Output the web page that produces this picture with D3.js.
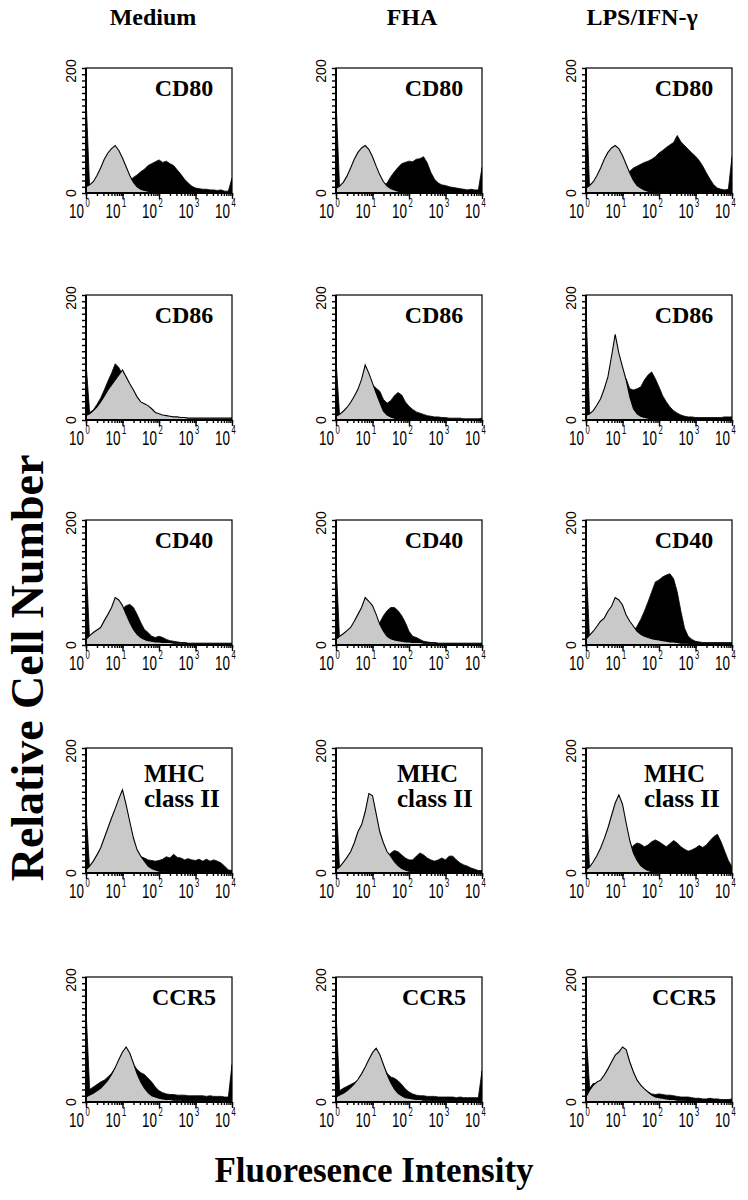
<!DOCTYPE html>
<html><head><meta charset="utf-8">
<script src="https://cdn.jsdelivr.net/npm/d3@7"></script>
<style>body{margin:0;background:#fff}</style>
</head><body>
<svg id="chart" width="748" height="1200"></svg>
<script>
// ---- categories / labels ----
const conditions = ["Medium", "FHA", "LPS/IFN-\u03b3"];
const markers = ["CD80", "CD86", "CD40", "MHC class II", "CCR5"];
const logBins = [0,0.1,0.2,0.3,0.4,0.5,0.6,0.7,0.8,0.9,1.0,1.1,1.2,1.3,1.4,1.5,1.6,1.7,1.8,1.9,2.0,2.1,2.2,2.3,2.4,2.5,2.6,2.7,2.8,2.9,3.0,3.1,3.2,3.3,3.4,3.5,3.6,3.7,3.8,3.9,4.0];
const xTickExponents = ["0","1","2","3","4"];
const yTickLabels = [0, 200];

// ---- series values (cell counts per log-bin) ----
const medium_CD80_control = [10,13,18,28,40,54,64,71,76,68, 56,42,28,17,10,6,4,3,2,1, 1,0,0,0,0,0,0,0,0,0, 0,0,0,0,0,0,0,0,0,0, 0];
const medium_CD80_stained = [155,8,8,9,9,10,10,11,12,13, 14,16,20,25,29,34,38,44,47,50, 53,49,51,47,44,37,30,22,16,11, 8,7,6,6,5,5,4,5,3,3, 24];
const fha_CD80_control = [7,11,17,27,40,54,65,72,76,70, 58,43,29,18,11,7,5,3,2,1, 1,0,0,0,0,0,0,0,0,0, 0,0,0,0,0,0,0,0,0,0, 0];
const fha_CD80_stained = [150,6,6,7,7,8,8,9,9,10, 10,11,12,13,16,26,34,41,47,49, 51,50,54,55,58,48,33,22,16,13, 12,10,9,8,7,6,5,6,5,5, 41];
const lps_CD80_control = [8,12,18,28,40,54,65,72,76,71, 60,46,32,20,12,8,5,3,2,1, 1,0,0,0,0,0,0,0,0,0, 0,0,0,0,0,0,0,0,0,0, 0];
const lps_CD80_stained = [157,6,7,7,8,8,9,10,12,15, 20,28,35,40,43,46,49,51,54,58, 64,68,73,77,81,92,82,76,70,64, 59,52,43,32,22,13,8,6,5,6, 58];

const medium_CD86_control = [7,10,15,21,29,38,48,56,64,72, 80,69,58,48,37,29,26,23,18,12, 10,8,7,6,5,5,4,4,3,3, 3,3,3,3,3,3,3,3,3,3, 3];
const medium_CD86_stained = [92,12,16,25,35,48,62,75,90,84, 72,55,40,30,22,17,14,12,10,8, 7,6,5,4,4,3,3,3,2,2, 2,2,2,2,2,2,2,2,2,2, 3];
const fha_CD86_control = [6,9,14,20,28,38,49,65,88,75, 59,43,28,14,8,5,3,2,2,1, 1,0,0,0,0,0,0,0,0,0, 0,0,0,0,0,0,0,0,0,0, 0];
const fha_CD86_stained = [97,6,10,15,22,30,40,50,58,60, 56,51,46,33,27,31,39,44,40,29, 22,17,13,11,9,7,6,5,5,4, 4,3,3,3,3,2,2,2,2,2, 3];
const lps_CD86_control = [7,10,15,24,34,50,69,102,137,107, 85,64,37,18,10,6,4,3,2,1, 1,0,0,0,0,0,0,0,0,0, 0,0,0,0,0,0,0,0,0,0, 0];
const lps_CD86_stained = [182,6,10,16,24,34,45,55,62,66, 68,66,50,48,50,53,64,72,77,66, 53,39,29,21,15,11,8,6,5,5, 4,4,4,4,4,4,4,4,5,5, 5];

const medium_CD40_control = [9,15,20,24,28,39,49,60,76,72, 63,49,36,25,17,12,9,7,6,5, 5,4,4,4,3,3,3,3,2,2, 2,2,2,2,2,2,2,2,2,2, 2];
const medium_CD40_stained = [137,6,8,11,15,20,27,35,44,52, 58,63,65,60,49,36,25,20,14,12, 14,12,9,7,6,5,4,4,3,3, 3,3,3,3,3,3,3,3,3,3, 3];
const fha_CD40_control = [9,14,18,23,28,38,49,60,76,70, 63,49,33,22,14,10,8,7,6,5, 5,4,4,4,3,3,3,3,2,2, 2,2,2,2,2,2,2,2,2,2, 2];
const fha_CD40_stained = [137,5,6,7,8,10,12,14,16,18, 20,26,36,47,55,60,60,55,47,36, 22,14,12,9,6,5,4,4,3,3, 3,3,3,3,3,3,3,3,3,3, 3];
const lps_CD40_control = [9,16,22,30,38,43,54,62,76,72, 64,48,38,30,22,17,14,12,10,9, 8,7,6,5,5,4,3,3,3,2, 2,2,2,2,2,2,2,2,2,2, 2];
const lps_CD40_stained = [138,5,6,7,8,9,10,11,12,13, 14,16,18,22,30,41,54,69,85,101, 104,109,112,114,106,85,54,27,14,9, 6,5,4,4,4,4,4,4,4,4, 4];

const medium_MHC_control = [5,11,19,29,40,56,72,88,103,119, 133,109,82,56,37,27,19,11,7,5, 3,2,2,1,1,0,0,0,0,0, 0,0,0,0,0,0,0,0,0,0, 0];
const medium_MHC_stained = [105,4,5,6,7,8,9,10,11,12, 13,14,15,17,20,26,24,21,20,19, 20,22,26,24,30,25,24,21,23,21, 20,22,19,22,19,21,19,16,11,5, 4];
const fha_MHC_control = [5,10,17,25,34,48,66,77,98,127, 124,95,66,48,34,27,18,12,7,5, 3,2,1,1,0,0,0,0,0,0, 0,0,0,0,0,0,0,0,0,0, 0];
const fha_MHC_stained = [120,4,5,6,7,8,9,10,11,12, 13,14,16,20,26,32,36,34,29,24, 21,21,27,32,29,24,21,19,21,24, 21,27,27,21,16,13,11,8,6,4, 4];
const lps_MHC_control = [5,10,18,28,40,55,72,92,112,125, 110,80,52,32,20,12,7,4,2,1, 1,0,0,0,0,0,0,0,0,0, 0,0,0,0,0,0,0,0,0,0, 0];
const lps_MHC_stained = [125,4,5,6,7,8,9,10,12,14, 18,26,36,44,48,46,42,45,50,53, 50,46,42,47,52,48,42,38,35,37, 40,44,41,45,52,58,62,50,35,20, 10];

const medium_CCR5_control = [8,11,14,18,22,28,35,44,55,68, 80,88,78,62,45,32,22,15,10,8, 6,5,4,4,3,3,3,2,2,2, 2,2,2,2,2,2,2,2,2,2, 2];
const medium_CCR5_stained = [150,20,24,28,32,35,40,46,54,62, 68,72,68,60,52,47,44,38,32,24, 18,15,13,12,12,11,11,11,10,10, 10,10,10,9,10,9,9,9,8,8, 60];
const fha_CCR5_control = [8,11,14,18,23,29,36,45,56,68, 79,86,76,60,44,31,21,14,10,7, 6,5,4,4,3,3,3,2,2,2, 2,2,2,2,2,2,2,2,2,2, 2];
const fha_CCR5_stained = [145,18,22,25,28,31,34,40,48,58, 66,70,66,56,46,40,38,34,28,21, 16,13,11,10,10,9,9,9,8,8, 8,8,8,7,8,7,7,7,7,7, 50];
const lps_CCR5_control = [8,19,27,32,35,43,53,64,75,80, 88,84,64,48,35,27,21,16,11,8, 7,6,5,4,4,3,3,3,2,2, 2,2,2,2,1,1,1,1,1,1, 1];
const lps_CCR5_stained = [115,22,30,28,33,40,48,58,68,74, 80,80,62,46,34,26,20,16,13,12, 13,12,11,11,10,9,8,8,8,7, 6,6,5,5,6,5,5,4,4,4, 5];

const controlSeries = [
  [medium_CD80_control, fha_CD80_control, lps_CD80_control],
  [medium_CD86_control, fha_CD86_control, lps_CD86_control],
  [medium_CD40_control, fha_CD40_control, lps_CD40_control],
  [medium_MHC_control, fha_MHC_control, lps_MHC_control],
  [medium_CCR5_control, fha_CCR5_control, lps_CCR5_control]
];
const stainedSeries = [
  [medium_CD80_stained, fha_CD80_stained, lps_CD80_stained],
  [medium_CD86_stained, fha_CD86_stained, lps_CD86_stained],
  [medium_CD40_stained, fha_CD40_stained, lps_CD40_stained],
  [medium_MHC_stained, fha_MHC_stained, lps_MHC_stained],
  [medium_CCR5_stained, fha_CCR5_stained, lps_CCR5_stained]
];

// ---- layout ----
const colLeft = [86, 336, 586];
const rowTop = [68, 295, 520, 748, 977];
const pw = 146, ph = 125;
const titleX = [153, 412, 642];
const serif = "'Liberation Serif','Times New Roman',serif";
const sans = "'Liberation Sans',Arial,sans-serif";

const svg = d3.select("#chart");

// column titles
svg.selectAll("text.coltitle").data(conditions).join("text")
  .attr("class","coltitle")
  .attr("x", (d,i) => titleX[i]).attr("y", 25)
  .attr("text-anchor","middle")
  .style("font-family", serif).style("font-weight","bold").style("font-size","24px")
  .text(d => d);

// axis titles
svg.append("text")
  .attr("transform","translate(43,668) rotate(-90)")
  .attr("text-anchor","middle")
  .style("font-family", serif).style("font-weight","bold").style("font-size","46px")
  .text("Relative Cell Number");
svg.append("text")
  .attr("x", 374).attr("y", 1182)
  .attr("text-anchor","middle")
  .style("font-family", serif).style("font-weight","bold").style("font-size","35px")
  .text("Fluoresence Intensity");

const x = d3.scaleLog().domain([1, 1e4]).range([0, pw]);
const y = d3.scaleLinear().domain([0, 200]).range([ph, 0]);
const area = d3.area()
  .x(d => x(Math.pow(10, d.b)))
  .y0(ph)
  .y1(d => y(d.v));

markers.forEach((marker, r) => {
  conditions.forEach((cond, c) => {
    const g = svg.append("g").attr("transform", `translate(${colLeft[c]},${rowTop[r]})`);
    const cid = `clip-${r}-${c}`;
    g.append("clipPath").attr("id", cid).append("rect")
      .attr("x", 0).attr("y", 0).attr("width", pw).attr("height", ph);
    const pg = g.append("g").attr("clip-path", `url(#${cid})`);
    const toPts = vals => logBins.map((b, i) => ({ b, v: vals[i] }));
    pg.append("path").datum(toPts(stainedSeries[r][c]))
      .attr("d", area).attr("fill", "#000").attr("stroke", "#000").attr("stroke-width", 0.8);
    pg.append("path").datum(toPts(controlSeries[r][c]))
      .attr("d", area).attr("fill", "#c9c9c9").attr("stroke", "#000").attr("stroke-width", 1.1);

    // frame
    g.append("rect").attr("x", 0).attr("y", 0).attr("width", pw).attr("height", ph)
      .attr("fill", "none").attr("stroke", "#000").attr("stroke-width", 1.2);
    g.append("line").attr("x1", 0).attr("x2", 0).attr("y1", 0).attr("y2", ph)
      .attr("stroke", "#000").attr("stroke-width", 2);
    g.append("line").attr("x1", 0).attr("x2", pw).attr("y1", ph).attr("y2", ph)
      .attr("stroke", "#000").attr("stroke-width", 2);

    // x axis: minor + major ticks
    const minorAxis = d3.axisBottom(x).tickValues(x.ticks()).tickSize(3).tickFormat("");
    const majorAxis = d3.axisBottom(x).tickValues(xTickExponents.map(e => Math.pow(10, +e))).tickSize(6).tickFormat("");
    [minorAxis, majorAxis].forEach(ax => {
      const a = g.append("g").attr("transform", `translate(0,${ph})`).call(ax);
      a.select(".domain").remove();
      a.selectAll(".tick line").attr("stroke", "#000").attr("stroke-width", 1.4);
    });
    // y axis ticks
    const yAxis = d3.axisLeft(y).ticks(20).tickSize(4).tickFormat("");
    const ya = g.append("g").call(yAxis);
    ya.select(".domain").remove();
    ya.selectAll(".tick line").attr("stroke", "#000").attr("stroke-width", 1.4);

    // x tick labels 10^n
    xTickExponents.forEach(e => {
      const tx = x(Math.pow(10, +e));
      const lg = g.append("g").attr("transform", `translate(${tx},${ph})`);
      lg.append("text").attr("transform", "scale(0.64,1)")
        .attr("x", -2 / 0.64).attr("y", 25).attr("text-anchor", "end")
        .style("font-family", sans).style("font-size", "21px").text("10");
      lg.append("text").attr("transform", "scale(0.64,1)")
        .attr("x", -0.5 / 0.64).attr("y", 14)
        .style("font-family", sans).style("font-size", "12px").text(e);
    });
    // y tick labels (rotated)
    yTickLabels.forEach(v => {
      g.append("text")
        .attr("transform", `translate(-10,${y(v) + (v === 0 ? 0 : 3)}) rotate(-90)`)
        .attr("text-anchor", "middle")
        .style("font-family", sans).style("font-size", "14px")
        .text(v);
    });

    // marker label
    if (marker === "MHC class II") {
      const lx = [58, 61, 58][c];
      const t = g.append("text")
        .style("font-family", serif).style("font-weight", "bold").style("font-size", "25px");
      t.append("tspan").attr("x", lx).attr("y", 34).text("MHC");
      t.append("tspan").attr("x", lx).attr("y", 59).text("class II");
    } else {
      g.append("text").attr("x", 98).attr("y", 28).attr("text-anchor", "middle")
        .style("font-family", serif).style("font-weight", "bold").style("font-size", "24px").text(marker);
    }
  });
});
</script>
</body></html>
